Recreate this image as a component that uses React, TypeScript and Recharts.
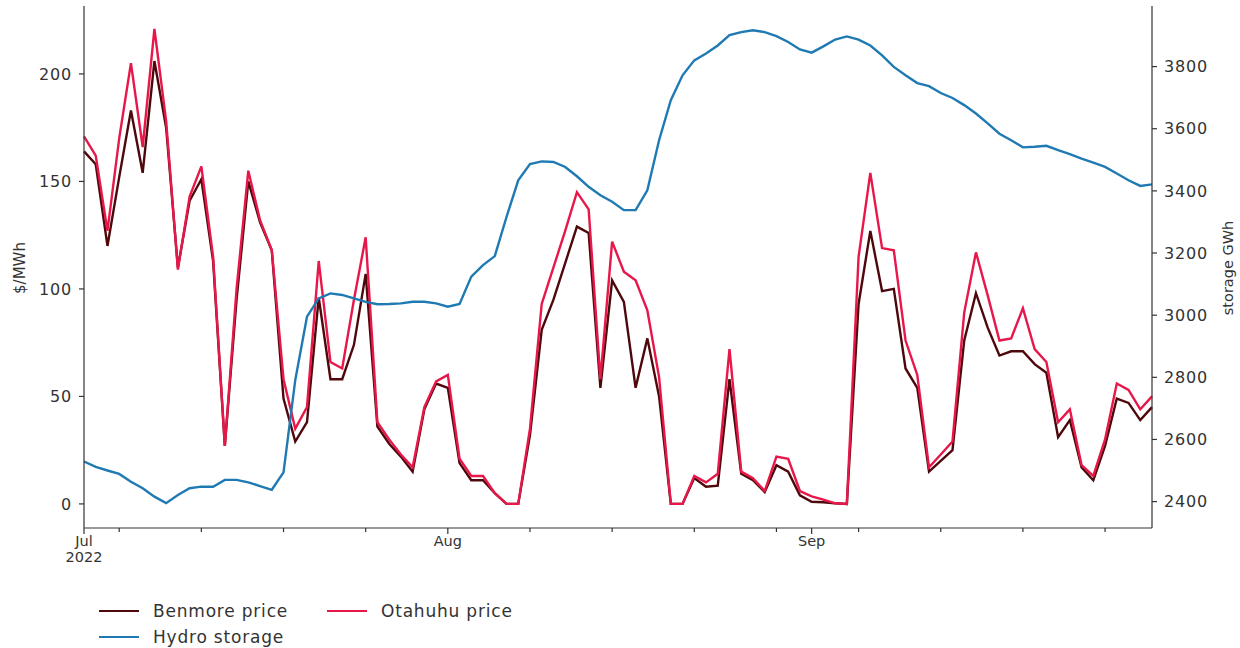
import React from 'react';
import { LineChart, Line, XAxis, YAxis } from 'recharts';

// daily values, 1 Jul 2022 .. 30 Sep 2022
const BENMORE = [
  164, 158, 120, 152, 183, 154, 206, 175, 110, 141, 151, 113, 27, 95, 150, 131, 118, 49, 29, 38,
  96, 58, 58, 74, 107, 36, 28, 22, 15, 44, 56, 54, 19, 11, 11, 5, 0, 0, 32, 81,
  95, 112, 129, 126, 54, 104, 94, 54, 77, 50, 0, 0, 12, 8, 8.5, 58, 14, 11, 5.5, 18,
  15, 4, 1, 0.8, 0.3, 0, 93, 127, 99, 100, 63, 54, 15, 20, 25, 76, 98, 82, 69, 71,
  71, 65, 61, 31, 39, 17, 11, 27, 49, 47, 39, 45,
];
const OTAHUHU = [
  171, 162, 127, 170, 205, 166, 221, 178, 109, 143, 157, 115, 27, 100, 155, 132, 118, 58, 35, 45,
  113, 66, 63, 95, 124, 38, 30, 23, 17, 45, 57, 60, 21, 13, 13, 5, 0, 0, 35, 93,
  110, 127, 145, 137, 58, 122, 108, 104, 90, 59, 0, 0, 13, 10, 14, 72, 15, 12, 6, 22,
  21, 6, 3.5, 2, 0.3, 0, 115, 154, 119, 118, 76, 60, 17, 23, 29, 89, 117, 97, 76, 77,
  91, 72, 66, 38, 44, 18, 13, 30, 56, 53, 44, 50,
];
const HYDRO = [
  2529, 2512, 2500, 2489, 2464, 2443, 2416, 2395, 2421, 2443, 2448, 2448, 2470, 2470, 2462, 2450, 2438, 2494, 2791, 2995,
  3054, 3070, 3065, 3054, 3043, 3035, 3036, 3038, 3043, 3043, 3038, 3027, 3036, 3124, 3161, 3190, 3316, 3434, 3486, 3495,
  3493, 3477, 3447, 3413, 3386, 3365, 3338, 3338, 3402, 3563, 3692, 3772, 3820, 3842, 3868, 3901, 3911, 3917, 3911, 3898,
  3879, 3855, 3845, 3865, 3887, 3897, 3887, 3868, 3836, 3799, 3772, 3747, 3737, 3715, 3699, 3676, 3649, 3617, 3584, 3563,
  3540, 3542, 3545, 3531, 3518, 3504, 3491, 3477, 3456, 3434, 3416, 3421,
];

const MONTH_TICKS = [0, 31, 62];
const MONTH_LABELS = [['Jul', '2022'], ['Aug'], ['Sep']];
const WEEK_TICKS = [3, 10, 17, 24, 38, 45, 52, 59, 66, 73, 80, 87];
const PRICE_TICKS = [0, 50, 100, 150, 200];
const STORAGE_TICKS = [2400, 2600, 2800, 3000, 3200, 3400, 3600, 3800];
const SERIES = [
  { key: 'benmore', name: 'Benmore price', color: '#4e080c' },
  { key: 'otahuhu', name: 'Otahuhu price', color: '#e8174a' },
  { key: 'hydro', name: 'Hydro storage', color: '#1f7ab3' },
];

const data = BENMORE.map((b, i) => ({ day: i, benmore: b, otahuhu: OTAHUHU[i], hydro: HYDRO[i] }));

const FONT = "'DejaVu Sans', sans-serif";
const AXIS = '#333';
const TICK_STYLE = { fontSize: 16, fill: '#333', fontFamily: FONT, letterSpacing: 0.8 };

const XTick = (props: any) => {
  const { x, y, payload } = props;
  const idx = MONTH_TICKS.indexOf(payload.value);
  const major = idx >= 0;
  return (
    <g>
      <line x1={x} x2={x} y1={y} y2={y + (major ? 6 : 4)} stroke={AXIS} strokeWidth={1.2} />
      {major && (
        <text x={x} y={y + 18} textAnchor="middle" fontSize={14.5} fill="#333" fontFamily={FONT}>
          {MONTH_LABELS[idx].map((t, k) => (
            <tspan key={k} x={x} dy={k === 0 ? 0 : 16}>
              {t}
            </tspan>
          ))}
        </text>
      )}
    </g>
  );
};

export default function App() {
  return (
    <div style={{ position: 'absolute', left: 0, top: 0, width: 1240, height: 648, background: '#fff', fontFamily: FONT }}>
      <LineChart width={1240} height={648} data={data} margin={{ top: 6, right: 0, bottom: 80, left: 0 }}>
        <XAxis
          dataKey="day"
          type="number"
          domain={[0, 91]}
          ticks={[...MONTH_TICKS, ...WEEK_TICKS].sort((a, b) => a - b)}
          interval={0}
          height={40}
          tickSize={0}
          tickMargin={0}
          tickLine={false}
          tick={<XTick />}
          axisLine={{ stroke: AXIS, strokeWidth: 1.2 }}
        />
        <XAxis
          xAxisId="top"
          orientation="top"
          dataKey="day"
          type="number"
          domain={[0, 91]}
          height={0}
          tick={false}
          tickLine={false}
          axisLine={{ stroke: AXIS, strokeWidth: 1.2 }}
        />
        <YAxis
          yAxisId="left"
          width={84}
          domain={[-11.2, 231.6]}
          ticks={PRICE_TICKS}
          interval={0}
          tickSize={5}
          tickMargin={7}
          tick={TICK_STYLE}
          tickLine={{ stroke: AXIS, strokeWidth: 1.2 }}
          axisLine={{ stroke: AXIS, strokeWidth: 1.2 }}
        />
        <YAxis
          yAxisId="right"
          orientation="right"
          width={88}
          domain={[2315, 3995]}
          ticks={STORAGE_TICKS}
          interval={0}
          tickSize={5}
          tickMargin={7}
          tick={TICK_STYLE}
          tickLine={{ stroke: AXIS, strokeWidth: 1.2 }}
          axisLine={{ stroke: AXIS, strokeWidth: 1.2 }}
        />
        <Line yAxisId="left" dataKey="benmore" name={SERIES[0].name} stroke={SERIES[0].color} strokeWidth={2.4} dot={false} isAnimationActive={false} />
        <Line yAxisId="left" dataKey="otahuhu" name={SERIES[1].name} stroke={SERIES[1].color} strokeWidth={2.4} dot={false} isAnimationActive={false} />
        <Line yAxisId="right" dataKey="hydro" name={SERIES[2].name} stroke={SERIES[2].color} strokeWidth={2.4} dot={false} isAnimationActive={false} />
      </LineChart>

      {/* axis titles */}
      <div style={{ position: 'absolute', left: 20, top: 268, transform: 'translate(-50%, -50%) rotate(-90deg)', fontSize: 15, color: '#333', whiteSpace: 'nowrap' }}>
        $/MWh
      </div>
      <div style={{ position: 'absolute', left: 1228, top: 268, transform: 'translate(-50%, -50%) rotate(-90deg)', fontSize: 14.5, color: '#333', whiteSpace: 'nowrap' }}>
        storage GWh
      </div>

      {/* legend, two columns */}
      {SERIES.map((s, i) => {
        const col = i === 1 ? 1 : 0;
        const row = i === 2 ? 1 : 0;
        const lx = col === 0 ? 99 : 327;
        const cy = row === 0 ? 611 : 637;
        return (
          <div key={s.key}>
            <div style={{ position: 'absolute', left: lx, top: cy - 1, width: 40, height: 2.4, background: s.color }} />
            <div style={{ position: 'absolute', left: lx + 54, top: cy - 11, fontSize: 17, lineHeight: '22px', color: '#333', whiteSpace: 'nowrap', letterSpacing: 0.8 }}>
              {s.name}
            </div>
          </div>
        );
      })}
    </div>
  );
}
